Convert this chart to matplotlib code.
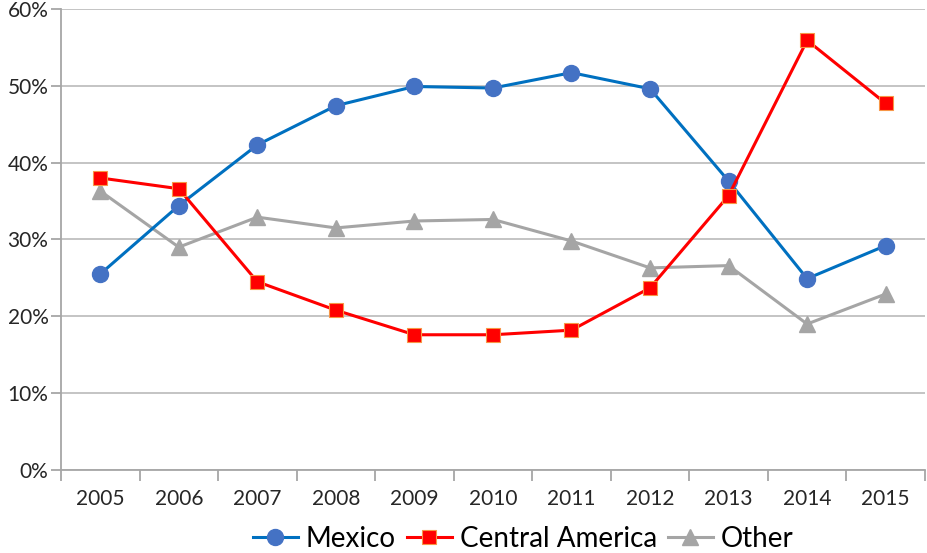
import matplotlib
matplotlib.use("Agg")
import matplotlib.pyplot as plt
from matplotlib.ticker import PercentFormatter

years = ["2005", "2006", "2007", "2008", "2009", "2010",
         "2011", "2012", "2013", "2014", "2015"]
mexico = [25.5, 34.4, 42.3, 47.4, 49.9, 49.7, 51.7, 49.6, 37.6, 24.9, 29.2]
central_america = [38.0, 36.6, 24.5, 20.8, 17.6, 17.6, 18.2, 23.7, 35.7, 55.9, 47.7]
other = [36.3, 29.0, 32.9, 31.5, 32.4, 32.6, 29.8, 26.3, 26.6, 19.0, 22.9]

plt.rcParams["font.family"] = ["Lato", "DejaVu Sans"]

fig = plt.figure(figsize=(9.28, 5.53), dpi=100)
ax = fig.add_axes([0.0657, 0.150, 0.931, 0.834])

x = range(len(years))
ax.plot(x, mexico, color="#0070C0", lw=2.2, marker="o", ms=11.5,
        mfc="#4472C4", mec="#4472C4", label="Mexico", zorder=3)
ax.plot(x, central_america, color="#FF0000", lw=2.2, marker="s", ms=10,
        mfc="#FF0000", mec="#F79646", mew=0.8, label="Central America", zorder=3)
ax.plot(x, other, color="#A5A5A5", lw=2.2, marker="^", ms=11,
        mfc="#A5A5A5", mec="#A5A5A5", label="Other", zorder=2)

ax.set_xlim(-0.5, len(years) - 0.5)
ax.set_ylim(0, 60)
ax.set_yticks(range(0, 61, 10))
ax.yaxis.set_major_formatter(PercentFormatter(decimals=0))
ax.set_xticks(x)
ax.set_xticklabels(years)
ax.set_xticks([i - 0.5 for i in range(len(years) + 1)], minor=True)

ax.grid(axis="y", color="#BFBFBF", lw=1.3)
ax.set_axisbelow(True)
for s in ("top", "right"):
    ax.spines[s].set_visible(False)
for s in ("left", "bottom"):
    ax.spines[s].set_color("#A6A6A6")
    ax.spines[s].set_linewidth(1.3)

ax.tick_params(axis="x", which="major", length=0, pad=14, labelsize=15, labelcolor="#262626")
ax.tick_params(axis="x", which="minor", length=8, width=1.3, color="#A6A6A6")
ax.tick_params(axis="y", length=7, width=1.3, color="#A6A6A6", labelsize=15,
               labelcolor="#262626", pad=2)

# legend sits right of centre, as in the source chart
fig.legend(loc="lower center", bbox_to_anchor=(0.564, -0.043), ncol=3, frameon=False,
           fontsize=20, handlelength=1.6, handletextpad=0.3, columnspacing=0.4)

fig.savefig("out.png", dpi=100)
